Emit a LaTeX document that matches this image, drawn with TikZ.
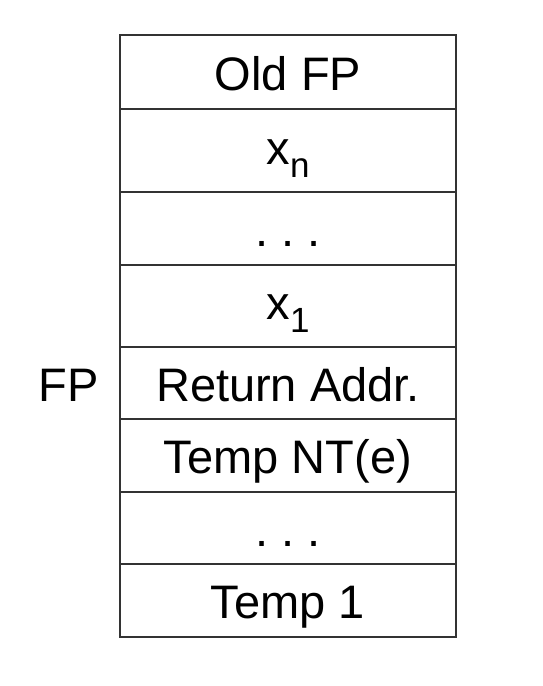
\documentclass[tikz,border=0pt]{standalone}
\usepackage{fontspec}
\setmainfont{Liberation Sans}
\usetikzlibrary{positioning}

\newcommand{\subx}[1]{x\raisebox{-13pt}{\fontsize{35}{35}\selectfont #1}}

\begin{document}
\begin{tikzpicture}[x=1pt,y=1pt,
    cell/.style={draw=black!80,line width=1.2pt,outer sep=0pt,inner sep=0pt,
      minimum width=336pt,text height=36pt,text depth=0pt,
      font=\fontsize{47}{56}\selectfont},
    subcell/.style={cell,text depth=9pt},
    lbl/.style={inner sep=0pt,text height=36pt,text depth=0pt,
      font=\fontsize{47}{56}\selectfont}]
  \useasboundingbox (0,0) rectangle (542,-686);
  % frame slots, top to bottom
  \node[cell,minimum height=74pt,anchor=north west] (oldfp) at (120,-35) {Old FP};
  \node[subcell,minimum height=83pt,below=0pt of oldfp] (xn) {\subx{n}};
  \node[cell,minimum height=73pt,below=0pt of xn] (dotsa) {.\ .\ .};
  \node[subcell,minimum height=82pt,below=0pt of dotsa] (xone) {\subx{1}};
  \node[cell,minimum height=72pt,below=0pt of xone] (ret) {Return Addr.};
  \node[cell,minimum height=73pt,below=0pt of ret] (tmpnt) {Temp NT(e)};
  \node[cell,minimum height=72pt,below=0pt of tmpnt] (dotsb) {.\ .\ .};
  \node[cell,minimum height=73pt,below=0pt of dotsb] (tmpone) {Temp 1};
  \node[lbl,left=21pt of ret] (fp) {FP};
\end{tikzpicture}
\end{document}
